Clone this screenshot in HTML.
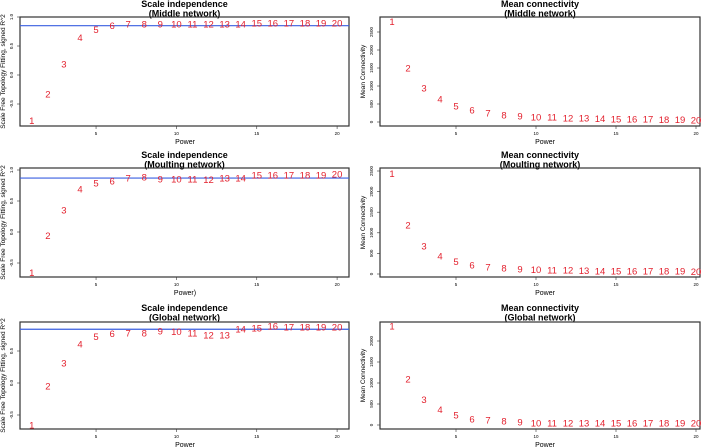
<!DOCTYPE html>
<html><head><meta charset="utf-8"><style>
body{margin:0;background:#fff;}
svg{display:block;font-family:"Liberation Sans",Arial,sans-serif;}
</style></head><body>
<svg id="c" width="709" height="448" viewBox="0 0 709 448"></svg>
<script>
const powers=[1,2,3,4,5,6,7,8,9,10,11,12,13,14,15,16,17,18,19,20];
const middleR2=[-0.79,-0.33,0.19,0.64,0.78,0.85,0.88,0.88,0.88,0.88,0.88,0.88,0.88,0.88,0.89,0.89,0.89,0.89,0.89,0.89];
const moultR2=[-0.66,-0.06,0.35,0.69,0.79,0.82,0.87,0.88,0.85,0.85,0.85,0.84,0.87,0.87,0.92,0.92,0.92,0.92,0.92,0.93];
const globalR2=[-0.66,-0.05,0.31,0.61,0.72,0.77,0.78,0.78,0.81,0.80,0.78,0.75,0.75,0.84,0.86,0.89,0.875,0.875,0.875,0.875];
const middleK=[2780,1500,944,640,444,333,250,195,167,139,130,111,111,97,83,83,75,64,64,56];
const moultK=[2430,1190,680,437,300,218,170,146,121,104,97,90,80,73,70,68,66,64,62,60];
const globalK=[2350,1095,602,365,230,143,119,95,71,48,46,45,44,43,42,41,40,39,38,38];
const r2Ticks=[-0.5,0,0.5,1.0];
const kTicks=[0,500,1000,1500,2000,2500];
const xTicks=[5,10,15,20];
const cutoffs=[0.85,0.87,0.84];

const svg=document.getElementById('c');
const NS='http://www.w3.org/2000/svg';
function mk(tag,attrs,parent){const e=document.createElementNS(NS,tag);for(const k in attrs)e.setAttribute(k,attrs[k]);(parent||svg).appendChild(e);return e;}

const rows=[
 {name:'middle',label:'Middle network',top:17,bot:126,r2:middleR2,k:middleK,cut:cutoffs[0],
  ly:[0,75,58],ry:[0,122,36/1000],t1:7,xl:'Power'},
 {name:'moulting',label:'Moulting network',top:168,bot:277,r2:moultR2,k:moultK,cut:cutoffs[1],
  ly:[0,232,62],ry:[0,274,41.2/1000],t1:158,xl:'Power)'},
 {name:'global',label:'Global network',top:322,bot:429,r2:globalR2,k:globalK,cut:cutoffs[2],
  ly:[0,383,64],ry:[0,425,42/1000],t1:311,xl:'Power'}
];

function panel(row,side){
  const left=side==='L';
  const bx0=left?20:380,bx1=left?349:700;
  const xs=left?(v=>15.7+v*16.07):(v=>376+v*16);
  const ys=left?(v=>row.ly[1]-v*row.ly[2]):(v=>row.ry[1]-v*row.ry[2]);
  const g=mk('g',{});
  
  
  const cx=(bx0+bx1)/2;
  const t=mk('text',{x:cx,y:row.t1,'text-anchor':'middle','font-size':'9','font-weight':'bold'},g);
  t.textContent=left?'Scale independence':'Mean connectivity';
  
  
  const t2=mk('text',{x:cx,y:row.t1+9.3,'text-anchor':'middle','font-size':'9','font-weight':'bold'},g);
  t2.textContent='('+row.label+')';
  
  
  const box=mk('rect',{x:bx0,y:row.top,width:bx1-bx0,height:row.bot-row.top,fill:'none',stroke:'#333','stroke-width':'1.2'},g);
  
  
  if(left){
    const ln=mk('line',{x1:bx0,x2:bx1,y1:ys(row.cut),y2:ys(row.cut),stroke:'#3a5fe0','stroke-width':'1.2'},g);
    
    
  }
  xTicks.forEach(v=>{
    const x=xs(v);
    mk('line',{x1:x,x2:x,y1:row.bot,y2:row.bot+3,stroke:'#333','stroke-width':'0.6'},g);
    const tl=mk('text',{x:x,y:row.bot+9,'text-anchor':'middle','font-size':'4.5'},g);
    tl.textContent=v;
    
    
  });
  const xl=mk('text',{x:left?185:545,y:row.bot+18,'text-anchor':'middle','font-size':'7'},g);
  xl.textContent=left?row.xl:'Power';
  
  
  const ticks=left?r2Ticks:kTicks;
  ticks.forEach(v=>{
    const y=ys(v);
    if(y<row.top-1||y>row.bot+1)return;
    mk('line',{x1:bx0,x2:bx0-3,y1:y,y2:y,stroke:'#333','stroke-width':'0.6'},g);
    const tl=mk('text',{x:bx0-7,y:y,'text-anchor':'middle','font-size':'4.5',transform:`rotate(-90 ${bx0-7} ${y})`},g);
    tl.textContent=left?v.toFixed(1):v;
    
    
  });
  const yx=left?5:365,ym=(row.top+row.bot)/2;
  const yl=mk('text',{x:yx,y:ym,'text-anchor':'middle','font-size':'6.5',transform:`rotate(-90 ${yx} ${ym})`},g);
  yl.textContent=left?'Scale Free Topology Fitting, signed R^2':'Mean Connectivity';
  
  
  const vals=left?row.r2:row.k;
  powers.forEach((p,i)=>{
    const pt=mk('text',{x:xs(p),y:ys(vals[i])+3.3,'text-anchor':'middle','font-size':'9.5',fill:'#e3212e'},g);
    pt.textContent=p;
    
    
  });
}
rows.forEach(r=>{panel(r,'L');panel(r,'R');});
</script>
</body></html>
